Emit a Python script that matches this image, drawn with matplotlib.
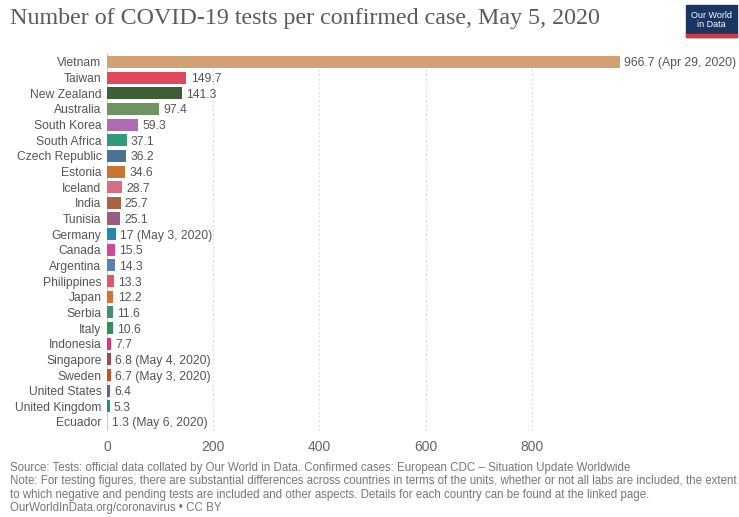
import matplotlib.pyplot as plt
from matplotlib.patches import Rectangle

countries = ["Vietnam", "Taiwan", "New Zealand", "Australia", "South Korea", "South Africa",
             "Czech Republic", "Estonia", "Iceland", "India", "Tunisia", "Germany", "Canada",
             "Argentina", "Philippines", "Japan", "Serbia", "Italy", "Indonesia", "Singapore",
             "Sweden", "United States", "United Kingdom", "Ecuador"]
values = [966.7, 149.7, 141.3, 97.4, 59.3, 37.1, 36.2, 34.6, 28.7, 25.7, 25.1, 17, 15.5,
          14.3, 13.3, 12.2, 11.6, 10.6, 7.7, 6.8, 6.7, 6.4, 5.3, 1.3]
notes = {"Vietnam": " (Apr 29, 2020)", "Germany": " (May 3, 2020)", "Singapore": " (May 4, 2020)",
         "Sweden": " (May 3, 2020)", "Ecuador": " (May 6, 2020)"}
colors = ["#d3a074", "#e0485e", "#3e5f31", "#6f9461", "#b06ab3", "#2f9b7a", "#4b7396",
          "#c97532", "#d56e80", "#a8643f", "#9c5a80", "#1f8aae", "#d6459c", "#5e80b5",
          "#e05864", "#d9702f", "#3f8c7b", "#2e9150", "#e0317a", "#9c4a50", "#c9502a",
          "#7a52a6", "#17938c", "#c8c8d8"]
xticks = [0, 200, 400, 600, 800]

fig = plt.figure(figsize=(7.39, 5.17), dpi=100)
ax = fig.add_axes([0.1448, 0.1656, 0.7185, 0.7327])

y = list(range(len(countries)))
ax.barh(y, values, height=0.77, color=colors, zorder=3)
for i, (c, v) in enumerate(zip(countries, values)):
    lab = ("%g" % v) + notes.get(c, "")
    ax.annotate(lab, (v, i), xytext=(3, 0), textcoords="offset points",
                va="center_baseline", ha="left", fontsize=8.7, color="#555555",
                family="Liberation Sans")

ax.set_ylim(len(countries) - 0.4, -0.6)
ax.set_xlim(0, 1000)
ax.set_yticks(y)
ax.set_yticklabels(countries, fontsize=8.7, color="#555555", family="Liberation Sans",
                   va="center_baseline")
ax.set_xticks(xticks)
ax.set_xticklabels([str(t) for t in xticks], fontsize=10, color="#666666", family="Liberation Sans")
ax.tick_params(length=0, pad=4)
ax.tick_params(axis="x", pad=6)
for s in ax.spines.values():
    s.set_visible(False)
ax.xaxis.grid(True, linestyle=(0, (2, 2)), color="#dddddd", linewidth=0.8, zorder=0)
ax.axvline(0, color="#cccccc", linewidth=0.8, zorder=2)

fig.text(0.0135, 0.965, "Number of COVID-19 tests per confirmed case, May 5, 2020",
         fontsize=17.3, family="Liberation Serif", color="#5b5b5b", va="center")

# logo
fig.patches.append(Rectangle((686 / 739, 1 - 37 / 517), 51 / 739, 32 / 517,
                             transform=fig.transFigure, color="#1a3563", zorder=5))
fig.patches.append(Rectangle((686 / 739, 1 - 37 / 517), 51 / 739, 3 / 517,
                             transform=fig.transFigure, color="#d8383a", zorder=6))
fig.text(711.5 / 739, 1 - 20 / 517, "Our World\nin Data", ha="center", va="center",
         fontsize=6.5, color="white", family="Liberation Sans", linespacing=0.95, zorder=7)

foot = ["Source: Tests: official data collated by Our World in Data. Confirmed cases: European CDC \u2013 Situation Update Worldwide",
        "Note: For testing figures, there are substantial differences across countries in terms of the units, whether or not all labs are included, the extent",
        "to which negative and pending tests are included and other aspects. Details for each country can be found at the linked page.",
        "OurWorldInData.org/coronavirus \u2022 CC BY"]
for k, line in enumerate(foot):
    fig.text(0.0135, 1 - (468 + 13.3 * k) / 517, line, fontsize=8.3, color="#777777",
             family="Liberation Sans", va="center")

fig.savefig("out.png", dpi=100, facecolor="white")
